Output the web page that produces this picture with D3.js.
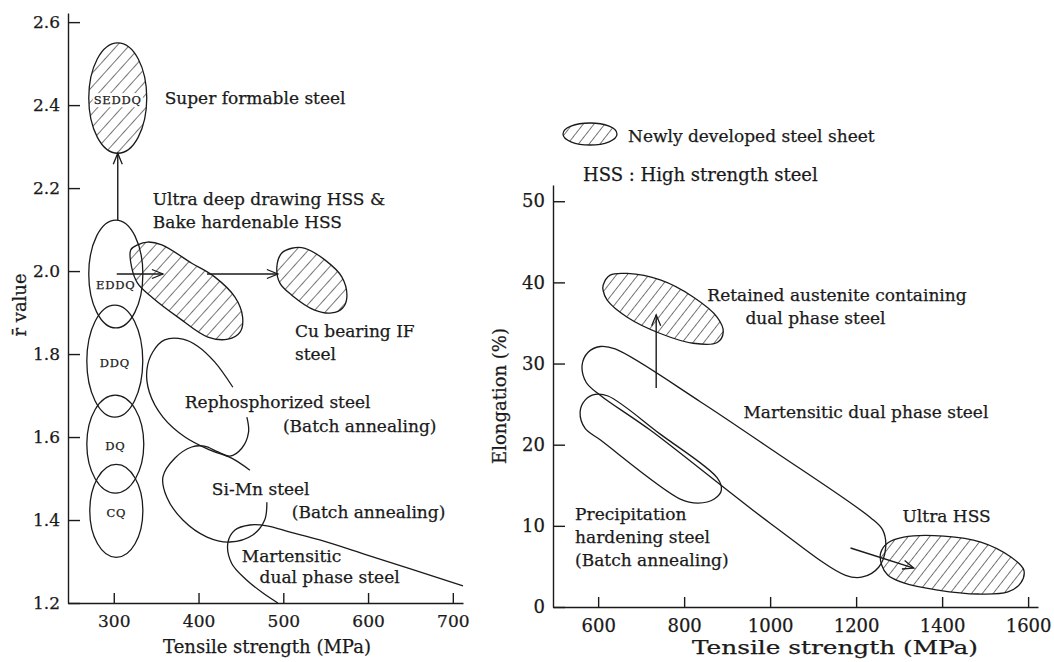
<!DOCTYPE html>
<html>
<head>
<meta charset="utf-8">
<script src="https://cdn.jsdelivr.net/npm/d3@7"></script>
<style>
body { margin: 0; background: #fff; }
svg text { font-family: "DejaVu Serif", serif; fill: #1a1a1a; stroke: #1a1a1a; stroke-width: 0.25px; }
.axis path, .axis line { stroke: #1a1a1a; stroke-width: 1.4; }
.axis text { font-family: "DejaVu Serif", serif; font-size: 17px; }
.right .axis text { font-size: 18px; }
.outline { fill: none; stroke: #1a1a1a; stroke-width: 1.3; }
.arrow { stroke: #1a1a1a; stroke-width: 1.4; }
</style>
</head>
<body>
<svg id="chart" width="1054" height="662"></svg>
<script>
const leftXTicks = [300, 400, 500, 600, 700];
const leftYTicks = [1.2, 1.4, 1.6, 1.8, 2.0, 2.2, 2.4, 2.6];
const rightXTicks = [600, 800, 1000, 1200, 1400, 1600];
const rightYTicks = [0, 10, 20, 30, 40, 50];

// conventional grades : centre and half ranges (MPa, r value)
const gradeNames = ["SEDDQ", "EDDQ", "DDQ", "DQ", "CQ"];
const gradeTS = [304.7, 302.4, 301.2, 301.8, 303.0];
const gradeTSHalf = [34.2, 31.9, 33.0, 33.6, 31.3];
const gradeR = [2.417, 1.993, 1.783, 1.583, 1.422];
const gradeRHalf = [0.133, 0.130, 0.135, 0.118, 0.112];
const gradeLabelR = [2.412, 1.966, 1.778, 1.578, 1.417];
const gradeNew = [true, false, false, false, false];

// left panel regions, [tensile strength, r value]
const ultraDeepHSS = [[320, 2.051], [328, 2.063], [340, 2.070], [356.7, 2.063], [392, 2.019], [419, 1.986],
    [443, 1.937], [452, 1.889], [449, 1.853], [434.6, 1.836], [411, 1.841], [375.6, 1.889], [345, 1.937],
    [328, 1.971], [321, 2.010]];
const cuBearingIF = [[492.4, 2.010], [498, 2.043], [510, 2.055], [525.5, 2.055], [549, 2.027], [569, 1.986],
    [575, 1.937], [570, 1.911], [557, 1.899], [537, 1.906], [510, 1.942], [496, 1.971]];
const rephosphorized = [[440.5, 1.720], [419, 1.781], [399, 1.819], [381.5, 1.836], [360, 1.834], [346, 1.805],
    [339, 1.761], [342, 1.708], [358, 1.648], [384, 1.600], [413, 1.569], [439, 1.549], [460.6, 1.520]];
const siMn = [[457, 1.648], [459, 1.612], [451, 1.573], [437, 1.554], [423, 1.564], [407, 1.578], [392, 1.576],
    [372, 1.549], [358, 1.504], [362.6, 1.455], [381.5, 1.400], [410, 1.359], [437, 1.347], [464, 1.364],
    [478, 1.400], [480.6, 1.443]];
const martensiticLeft = [[493.6, 1.200], [476, 1.224], [457, 1.255], [439, 1.296], [434.6, 1.345], [443, 1.376],
    [460.6, 1.388], [480.6, 1.386], [508, 1.371], [543, 1.352], [600, 1.315], [712, 1.241]];
const leftArrows = [[[304.7, 2.123], [304.7, 2.284]], [[303.5, 1.993], [358, 1.993]], [[410, 1.993], [493.6, 1.993]]];

// right panel regions, [tensile strength, elongation]
const retainedAustenite = [[611.6, 39.65], [628, 40.9], [667.6, 41.1], [744.5, 40.3], [821, 38.2], [877, 35.7],
    [891, 33.9], [877, 32.6], [821, 32.5], [744.5, 33.7], [667.6, 35.7], [621, 37.8], [611.6, 39.0]];
const martensiticDP = [[562.7, 29.8], [576.7, 31.4], [604.7, 32.1], [639.6, 31.8], [837.6, 25.3], [1000.7, 19.5],
    [1233.7, 11.0], [1261.7, 9.5], [1268.7, 7.3], [1252.4, 4.9], [1215, 3.7], [1175.5, 3.9], [1000.7, 10.3],
    [721, 21.8], [604.7, 26.1], [572, 27.7]];
const precipitation = [[558, 24.0], [569.7, 25.5], [593, 26.2], [623, 26.0], [744.5, 21.3], [877, 15.9],
    [886.6, 14.4], [870, 13.3], [833, 12.8], [791, 13.3], [604.7, 20.6], [569.7, 22.0]];
const ultraHSS = [[1257, 6.65], [1273.4, 7.88], [1310.6, 8.62], [1403.8, 8.74], [1490, 8.0], [1560, 6.16],
    [1590, 4.56], [1583, 2.96], [1553, 1.85], [1483, 1.60], [1389.8, 2.09], [1310.6, 2.96], [1273.4, 3.94],
    [1259.4, 5.17]];
const rightArrows = [[[735, 27.0], [735, 36.0]], [[1187, 7.27], [1334, 4.80]]];

const leftLabels = [
    {lines: ["Super formable steel"], at: [360, 2.402]},
    {lines: ["Ultra deep drawing HSS &", "Bake hardenable HSS"], at: [346, 2.159]},
    {lines: ["Cu bearing IF", "steel"], at: [513.7, 1.841]},
    {lines: ["Rephosphorized steel"], at: [383.8, 1.670]},
    {lines: ["(Batch annealing)"], at: [499.5, 1.612]},
    {lines: ["Si-Mn steel"], at: [415.7, 1.460]},
    {lines: ["(Batch annealing)"], at: [510, 1.405]},
    {lines: ["Martensitic"], at: [451, 1.299]},
    {lines: ["dual phase steel"], at: [472, 1.248]}
];
const rightLabels = [
    {lines: ["Retained austenite containing"], at: [854, 37.7]},
    {lines: ["dual phase steel"], at: [942.5, 34.9]},
    {lines: ["Martensitic dual phase steel"], at: [937.8, 23.3]},
    {lines: ["Precipitation", "hardening steel", "(Batch annealing)"], at: [546.4, 10.7]},
    {lines: ["Ultra HSS"], at: [1308, 10.5]}
];

const svg = d3.select("#chart");
const defs = svg.append("defs");

function hatch(id, angle, gap) {
    defs.append("pattern")
        .attr("id", id)
        .attr("patternUnits", "userSpaceOnUse")
        .attr("width", gap)
        .attr("height", gap)
        .attr("patternTransform", `rotate(${angle})`)
        .append("line")
        .attr("x1", 0).attr("y1", 0).attr("x2", 0).attr("y2", gap)
        .attr("stroke", "#1a1a1a")
        .attr("stroke-width", 1.2);
}
hatch("hatchLeft", 42, 9);
hatch("hatchRight", 38, 8.5);

defs.append("marker")
    .attr("id", "head")
    .attr("viewBox", "-12 -6 14 12")
    .attr("refX", 0).attr("refY", 0)
    .attr("markerWidth", 14).attr("markerHeight", 12)
    .attr("markerUnits", "userSpaceOnUse")
    .attr("orient", "auto")
    .append("path")
    .attr("d", "M-11,-4.5L0,0L-11,4.5")
    .attr("fill", "none")
    .attr("stroke", "#1a1a1a")
    .attr("stroke-width", 1.3);

const xL = d3.scaleLinear().domain([246, 712]).range([68, 463]);
const yL = d3.scaleLinear().domain([1.2, 2.622]).range([603, 13]);
const xR = d3.scaleLinear().domain([495, 1623]).range([553, 1038]);
const yR = d3.scaleLinear().domain([0, 52]).range([607, 185]);

const leftG = svg.append("g").attr("class", "left");
const rightG = svg.append("g").attr("class", "right");

function axes(g, x, y, xTicks, yTicks, yFormat) {
    g.append("g")
        .attr("class", "axis")
        .attr("transform", `translate(0,${y.range()[0]})`)
        .call(d3.axisBottom(x).tickValues(xTicks).tickSize(-10).tickSizeOuter(0).tickPadding(12)
            .tickFormat(d3.format("d")));
    g.append("g")
        .attr("class", "axis")
        .attr("transform", `translate(${x.range()[0]},0)`)
        .call(d3.axisLeft(y).tickValues(yTicks).tickSize(-12).tickSizeOuter(0).tickPadding(8)
            .tickFormat(yFormat));
}
axes(leftG, xL, yL, leftXTicks, leftYTicks, d3.format(".1f"));
axes(rightG, xR, yR, rightXTicks, rightYTicks, d3.format("d"));

function region(g, x, y, pts, fill, closed) {
    const line = d3.line()
        .x(d => x(d[0]))
        .y(d => y(d[1]))
        .curve(closed ? d3.curveCatmullRomClosed.alpha(0.5) : d3.curveCatmullRom.alpha(0.5));
    g.append("path")
        .attr("class", "outline")
        .attr("d", line(pts))
        .style("fill", fill || "none");
}

function arrows(g, x, y, list) {
    g.append("g").selectAll("line")
        .data(list)
        .join("line")
        .attr("class", "arrow")
        .attr("x1", d => x(d[0][0])).attr("y1", d => y(d[0][1]))
        .attr("x2", d => x(d[1][0])).attr("y2", d => y(d[1][1]))
        .attr("marker-end", "url(#head)");
}

function labels(g, x, y, list) {
    list.forEach(l => {
        const t = g.append("text")
            .attr("x", x(l.at[0]))
            .attr("y", y(l.at[1]))
            .style("font-size", "17px");
        l.lines.forEach((s, i) => {
            t.append("tspan").attr("x", x(l.at[0])).attr("dy", i ? 23 : 0).text(s);
        });
    });
}

// left panel
const grades = leftG.append("g");
grades.selectAll("ellipse")
    .data(gradeNames)
    .join("ellipse")
    .attr("class", "outline")
    .attr("cx", (d, i) => xL(gradeTS[i]))
    .attr("cy", (d, i) => yL(gradeR[i]))
    .attr("rx", (d, i) => xL(gradeTS[i] + gradeTSHalf[i]) - xL(gradeTS[i]))
    .attr("ry", (d, i) => yL(gradeR[i] - gradeRHalf[i]) - yL(gradeR[i]))
    .style("fill", (d, i) => gradeNew[i] ? "url(#hatchLeft)" : "none");

region(leftG, xL, yL, ultraDeepHSS, "url(#hatchLeft)", true);
region(leftG, xL, yL, cuBearingIF, "url(#hatchLeft)", true);
region(leftG, xL, yL, rephosphorized, null, false);
region(leftG, xL, yL, siMn, null, false);
region(leftG, xL, yL, martensiticLeft, null, false);
arrows(leftG, xL, yL, leftArrows);

gradeNames.forEach((name, i) => {
    const t = grades.append("text")
        .attr("x", xL(gradeTS[i]))
        .attr("y", yL(gradeLabelR[i]))
        .attr("text-anchor", "middle")
        .attr("dominant-baseline", "central")
        .style("font-size", "11.5px")
        .style("letter-spacing", "0.8px")
        .text(name);
    if (gradeNew[i]) {
        const b = t.node().getBBox();
        grades.insert("rect", "text")
            .attr("x", b.x - 1).attr("y", b.y)
            .attr("width", b.width + 2).attr("height", b.height)
            .attr("fill", "#fff");
    }
});
labels(leftG, xL, yL, leftLabels);

// right panel
region(rightG, xR, yR, retainedAustenite, "url(#hatchRight)", true);
region(rightG, xR, yR, martensiticDP, null, true);
region(rightG, xR, yR, precipitation, null, true);
region(rightG, xR, yR, ultraHSS, "url(#hatchRight)", true);
arrows(rightG, xR, yR, rightArrows);
labels(rightG, xR, yR, rightLabels);

// legend
rightG.append("ellipse")
    .attr("class", "outline")
    .attr("cx", 590).attr("cy", 134).attr("rx", 27).attr("ry", 11)
    .style("fill", "url(#hatchRight)");
rightG.append("text").attr("x", 628).attr("y", 142).style("font-size", "17px").text("Newly developed steel sheet");
rightG.append("text").attr("x", 583).attr("y", 181).style("font-size", "18px").text("HSS : High strength steel");

// axis titles
leftG.append("text")
    .attr("x", 267).attr("y", 653)
    .attr("text-anchor", "middle")
    .style("font-size", "18px")
    .text("Tensile strength (MPa)");
leftG.append("text")
    .attr("transform", "translate(26,305) rotate(-90)")
    .attr("text-anchor", "middle")
    .style("font-size", "18px")
    .text("r\u0304 value");
rightG.append("text")
    .attr("x", 692).attr("y", 654)
    .attr("textLength", 286)
    .attr("lengthAdjust", "spacingAndGlyphs")
    .style("font-size", "18px")
    .text("Tensile strength (MPa)");
rightG.append("text")
    .attr("transform", "translate(506,396) rotate(-90)")
    .attr("text-anchor", "middle")
    .style("font-size", "18px")
    .text("Elongation (%)");
</script>
</body>
</html>
